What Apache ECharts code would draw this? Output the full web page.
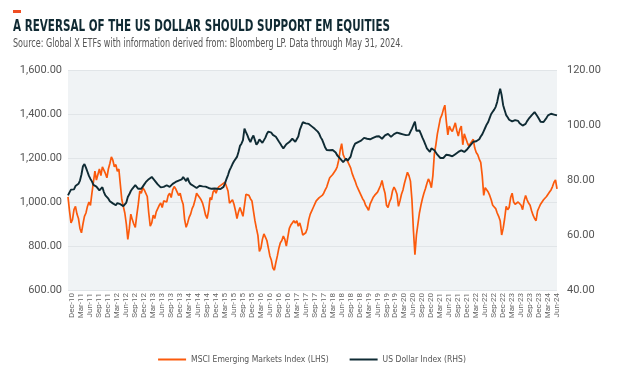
<!DOCTYPE html>
<html>
<head>
<meta charset="utf-8">
<script src="https://cdn.jsdelivr.net/npm/echarts@6/dist/echarts.min.js"></script>
<style>
html,body{margin:0;padding:0;background:#fff;}
#chart{width:624px;height:378px;}
</style>
</head>
<body>
<div id="chart"></div>
<script>
// Quarter tick labels shown on the x axis
const tickLabels = ["Dec-10","Mar-11","Jun-11","Sep-11","Dec-11","Mar-12","Jun-12","Sep-12","Dec-12","Mar-13","Jun-13","Sep-13","Dec-13","Mar-14","Jun-14","Sep-14","Dec-14","Mar-15","Jun-15","Sep-15","Dec-15","Mar-16","Jun-16","Sep-16","Dec-16","Mar-17","Jun-17","Sep-17","Dec-17","Mar-18","Jun-18","Sep-18","Dec-18","Mar-19","Jun-19","Sep-19","Dec-19","Mar-20","Jun-20","Sep-20","Dec-20","Mar-21","Jun-21","Sep-21","Dec-21","Mar-22","Jun-22","Sep-22","Dec-22","Mar-23","Jun-23","Sep-23","Dec-23","Mar-24","Jun-24"];

// MSCI Emerging Markets Index (LHS), semi-monthly readings
const msciEM = [
1023,960,905,920,965,980,945,925,880,860,
900,935,950,980,1000,985,1040,1090,1140,1100,
1125,1150,1120,1160,1145,1130,1110,1150,1175,1205,
1190,1160,1170,1140,1150,1155,1010,980,950,900,
830,880,945,920,900,885,940,990,1050,1040,
1065,1055,1060,1025,950,890,905,940,925,955,
970,985,995,975,1005,1010,1000,1030,1040,1020,
1055,1070,1060,1045,1030,1040,1010,990,920,885,
905,930,945,970,985,1010,1040,1030,1020,1010,
995,970,940,925,960,1020,1010,1045,1055,1040,
1060,1070,1065,1080,1085,1090,1095,1050,995,1000,
1010,990,960,925,955,975,980,935,985,1035,
1040,1030,1015,1005,960,915,880,848,775,790,
830,855,840,825,790,755,735,700,690,725,
755,790,815,825,845,830,800,840,880,895,
905,915,905,915,890,905,880,850,845,860,
880,920,945,960,975,990,1005,1010,1020,1025,
1030,1040,1055,1068,1090,1110,1118,1125,1130,1145,
1160,1190,1235,1265,1215,1200,1195,1185,1170,1155,
1130,1112,1095,1075,1060,1045,1030,1015,1005,985,
975,962,990,1005,1020,1030,1035,1045,1060,1075,
1098,1065,1040,985,975,1000,1015,1050,1068,1055,
1035,980,1005,1035,1055,1085,1110,1135,1120,1095,
1010,870,760,850,900,950,985,1015,1040,1060,
1084,1105,1090,1065,1120,1220,1260,1310,1345,1380,
1395,1420,1440,1365,1305,1345,1330,1320,1340,1360,
1325,1300,1330,1345,1260,1310,1290,1270,1255,1260,
1275,1285,1245,1225,1215,1195,1180,1120,1030,1065,
1070,1045,1030,1010,985,980,970,950,935,915,
850,880,925,980,965,975,1020,1040,1000,990,
985,1000,995,985,965,1005,1030,1010,995,985,
960,940,925,915,960,975,990,1000,1010,1015,
1025,1030,1045,1055,1070,1090,1100,1060
];

// US Dollar Index (RHS), semi-monthly readings
const usDollar = [
74.4,75.5,76.5,77,76.6,77.8,78.1,78.6,79.8,82,
85,85.8,84.5,83,81.5,80.4,79.5,78.2,78.6,77.6,
77.2,76.2,75.8,77.4,75.6,74.4,73.8,73.2,72.3,72,
71.5,71,70.8,71.6,72,71.2,70.8,70.5,70.2,71.8,
73.8,74.8,76,76.8,77.2,78.1,77.5,76.8,77.3,76.8,
77.6,78.4,79.2,79.9,80.3,80.8,81.1,80.5,79.8,79.2,
78.4,78,77.3,76.8,77.5,78,78.1,77.6,77.5,78,
78.6,79.1,79.3,78.8,79.8,80.5,80.2,81.1,80.4,79.6,
80.8,79.3,78.5,78.1,77.8,77.3,77.1,77.6,77.9,78.1,
77.7,77.4,77.6,77.5,77.1,76.9,76.8,77.2,76.9,77.1,
76.8,76.6,76.7,77.2,77.5,78.8,80.4,81.8,83.5,84.6,
85.8,86.8,87.5,88.4,90.2,92.4,93.2,94.5,98.7,97.4,
96.2,94.8,93.8,95.2,96.2,94.5,92.8,93.6,94.8,94.2,
93.5,93.4,95.4,96.8,97.6,98.1,97.2,96.4,96,95.7,
95.2,94,93.2,92.3,91.5,92.2,93,93.6,93.8,94.4,
95,94.6,93.9,93.8,95.8,98.2,99.6,101,101.7,100.6,
99.9,100.4,100.2,99.5,98.8,98.6,98.2,97.6,96.8,95.5,
94.6,93.2,91.8,90.9,90.2,90.8,91.4,90.9,90.4,90,
89,88.4,87.8,87.2,86.5,87.2,87.8,87,86.7,88.5,
90.6,92.1,93.2,93.4,93.8,94,94.3,94.7,95.3,95.6,
95,94.4,94.8,95,95.3,95.6,95.8,96.2,95.9,95.4,
95,95.6,96.2,96.5,96.8,96.3,95.7,96.2,96.7,96.9,
97.2,97.5,96.9,96.3,96.6,96.8,96.3,95.9,96.4,97.6,
98.7,100,101.2,97.9,98.5,98,96.8,95.4,94.2,92.9,
91.5,90.8,90.2,91.5,90.9,90.8,90,89.2,88.7,88,
87.6,88,88.4,89.2,89.6,89,88.4,88.6,89,89.4,
89.8,90.2,90.5,90.8,90.4,90.2,90.6,91.2,91.8,92.6,
93.2,93.9,94.4,94.1,93.8,94.8,95.8,96.6,97.8,99,
100.2,101.1,102.6,104,104.8,105.6,106.6,108.4,111,113.2,
110.8,107.2,105.4,103.6,102.8,101.9,101.6,101.3,101,101.8,
102.3,101.5,100.6,100.2,99.8,99.3,100.4,101.4,102.2,102.8,
103.5,104.1,104.7,104,103.1,102.2,101.2,100.5,101.1,101.7,
102.6,103.5,103.2,104.1,103.6,103.8,104,103.5
];

// Semi-monthly categories from Nov-10 to Jun-24 (two points per month)
const MONTHS = ["Jan","Feb","Mar","Apr","May","Jun","Jul","Aug","Sep","Oct","Nov","Dec"];
const categories = [];
for (let i = 0; i < msciEM.length; i++) {
  const m = 10 + Math.floor(i / 2);
  const name = MONTHS[m % 12] + "-" + String(10 + Math.floor(m / 12)).padStart(2, "0");
  categories.push(i % 2 === 1 ? name : name + " (1H)");
}
const tickSet = new Set(tickLabels);

const TITLE = 'A REVERSAL OF THE US DOLLAR SHOULD SUPPORT EM EQUITIES';
const SUBTITLE = 'Source: Global X ETFs with information derived from: Bloomberg LP. Data through May 31, 2024.';
const LEGEND_NAMES = ['MSCI Emerging Markets Index (LHS)', 'US Dollar Index (RHS)'];

// pick a narrow font if one is installed
const ctx = document.createElement('canvas').getContext('2d');
function fontAvailable(name) {
  const s = 'abcdefghijklmnopqrstuvwxyz ABCDEFGHIJ 0123456789';
  ctx.font = '20px monospace'; const a = ctx.measureText(s).width;
  ctx.font = '20px "' + name + '", monospace'; const b = ctx.measureText(s).width;
  ctx.font = '20px serif'; const c = ctx.measureText(s).width;
  ctx.font = '20px "' + name + '", serif'; const d = ctx.measureText(s).width;
  return a !== b || c !== d;
}
const narrowCandidates = ['Liberation Sans Narrow', 'DejaVu Sans Condensed', 'Roboto Condensed', 'Open Sans Condensed'];
let NARROW = 'Roboto';
for (const f of narrowCandidates) { if (fontAvailable(f)) { NARROW = f; break; } }
function textWidth(font, t) { ctx.font = font; return ctx.measureText(t).width; }

const titleFont = 'bold 15px "' + NARROW + '", Roboto, sans-serif';
const subFont = '12px "' + NARROW + '", Roboto, sans-serif';
const titleScale = Math.min(1, 377 / textWidth(titleFont, TITLE));
const subScale = Math.min(1, 390 / textWidth(subFont, SUBTITLE));
// legend font size chosen so the first legend label is about 137px wide
let legendSize = 11;
while (legendSize > 8.5 && textWidth(legendSize + 'px "' + NARROW + '"', LEGEND_NAMES[0]) > 145) legendSize -= 0.5;

const chart = echarts.init(document.getElementById('chart'), null, {renderer: 'canvas'});
const ORANGE = '#fb5a0c';
const NAVY = '#0f2b34';
const fmt = v => v.toLocaleString('en-US', {minimumFractionDigits: 2, maximumFractionDigits: 2});

chart.setOption({
  backgroundColor: '#ffffff',
  animation: false,
  graphic: [
    {type: 'rect', x: 13, y: 10, shape: {width: 8, height: 3}, style: {fill: '#f04e23'}},
    {type: 'text', x: 13, y: 20, scaleX: titleScale, originX: 0, originY: 0,
     style: {text: TITLE, font: titleFont, fill: '#102a33', verticalAlign: 'top', align: 'left'}},
    {type: 'text', x: 13, y: 38, scaleX: subScale, originX: 0, originY: 0,
     style: {text: SUBTITLE, font: subFont, fill: '#555555', verticalAlign: 'top', align: 'left'}}
  ],
  grid: {left: 68, right: 67, top: 70, bottom: 88, show: true, backgroundColor: '#f0f3f5', borderWidth: 0},
  legend: {
    left: 'center', top: 350, itemWidth: 28, itemHeight: 2, itemGap: 21, icon: 'rect',
    textStyle: {fontFamily: NARROW, fontSize: legendSize, color: '#555555'},
    data: LEGEND_NAMES
  },
  xAxis: {
    type: 'category', data: categories, boundaryGap: false,
    axisLine: {show: false}, axisTick: {show: false},
    axisLabel: {
      rotate: 90, fontSize: 8, color: '#666666', fontFamily: 'Roboto', margin: 3,
      interval: (idx, val) => idx % 2 === 1 && tickSet.has(val),
      formatter: v => v
    },
    splitLine: {show: false}
  },
  yAxis: [
    {type: 'value', min: 600, max: 1600, interval: 200, position: 'left',
     axisLine: {show: false}, axisTick: {show: false},
     axisLabel: {formatter: fmt, fontSize: 11, color: '#555555', fontFamily: 'Roboto', margin: 6},
     splitLine: {lineStyle: {color: '#e1e5e8', width: 1}}},
    {type: 'value', min: 40, max: 120, interval: 20, position: 'right',
     axisLine: {show: false}, axisTick: {show: false},
     axisLabel: {formatter: fmt, fontSize: 11, color: '#555555', fontFamily: 'Roboto', margin: 10},
     splitLine: {show: false}}
  ],
  series: [
    {name: LEGEND_NAMES[0], type: 'line', yAxisIndex: 0, data: msciEM,
     showSymbol: false, lineStyle: {color: ORANGE, width: 1.7}, itemStyle: {color: ORANGE}, z: 2},
    {name: LEGEND_NAMES[1], type: 'line', yAxisIndex: 1, data: usDollar,
     showSymbol: false, lineStyle: {color: NAVY, width: 1.9}, itemStyle: {color: NAVY}, z: 3}
  ]
});
</script>
</body>
</html>
